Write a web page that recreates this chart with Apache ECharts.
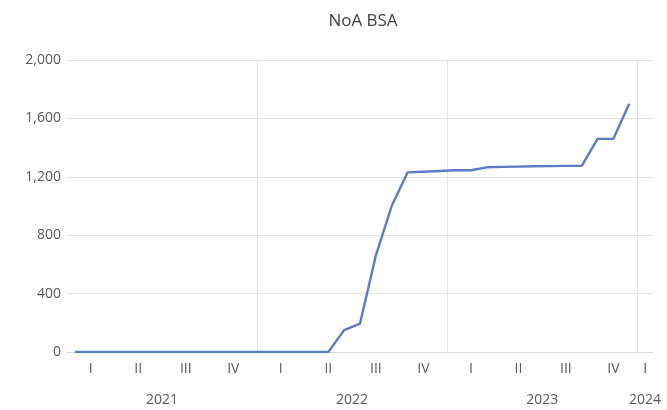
<!DOCTYPE html>
<html>
<head>
<meta charset="utf-8">
<script src="https://cdn.jsdelivr.net/npm/echarts@6/dist/echarts.min.js"></script>
<style>
  html, body { margin: 0; padding: 0; background: #ffffff; }
  #chart { width: 667px; height: 410px; }
</style>
</head>
<body>
<div id="chart"></div>
<script>
// Monthly NoA BSA totals, January 2021 onward; the axis runs one month into 2024.
const chartTitle = 'NoA BSA';
const years = ['2021', '2022', '2023', '2024'];
const monthsInYear = [12, 12, 12, 1];
const quarterNames = ['I', 'II', 'III', 'IV'];
const bsaValues = [
  0, 0, 0, 0, 0, 0, 0, 0, 0, 0, 0, 0,                      // 2021
  0, 0, 0, 0, 0, 150, 195, 660, 1000, 1230, 1235, 1240,    // 2022
  1245, 1245, 1265, 1268, 1270, 1272, 1273, 1275, 1275, 1460, 1460, 1700 // 2023
];
const yMin = 0, yMax = 2000, yStep = 400;

// Month slots along the category axis
const months = [];
const monthYear = [];
const monthOfYear = [];
years.forEach((y, yi) => {
  for (let m = 0; m < monthsInYear[yi]; m++) {
    months.push(y + '-' + String(m + 1).padStart(2, '0'));
    monthYear.push(y);
    monthOfYear.push(m);
  }
});

// Centre of each year group, in month-index units, for the year labels
const yearCentres = [];
let start = 0;
monthsInYear.forEach(n => { yearCentres.push(start + (n - 1) / 2); start += n; });

const textColor = '#595959';
const gridColor = '#e3e3e3';
const fontFamily = 'Open Sans, Noto Sans, sans-serif';

const chart = echarts.init(document.getElementById('chart'), null, { renderer: 'canvas' });
chart.setOption({
  animation: false,
  backgroundColor: '#ffffff',
  title: {
    text: chartTitle,
    left: 358,
    textAlign: 'center',
    top: 8,
    textStyle: { fontFamily, fontSize: 17, fontWeight: 'normal', color: '#404040' }
  },
  grid: { left: 67, right: 14, top: 60, bottom: 58, containLabel: false },
  xAxis: [
    {
      type: 'category',
      data: months,
      boundaryGap: true,
      axisLine: { show: true, lineStyle: { color: '#d9d9d9', width: 1 } },
      axisTick: { show: false },
      axisLabel: {
        interval: (i) => monthOfYear[i] % 3 === 1 || monthsInYear[years.indexOf(monthYear[i])] < 3,
        formatter: (v, i) => quarterNames[Math.floor(monthOfYear[i] / 3)],
        color: textColor, fontFamily, fontSize: 14, margin: 10
      },
      splitLine: {
        show: true,
        showMaxLine: false,
        interval: (i) => i > 0 && monthOfYear[i] === 0,
        lineStyle: { color: gridColor, width: 1 }
      }
    },
    {
      type: 'value',
      position: 'bottom',
      offset: 33,
      min: -0.5,
      max: months.length - 0.5,
      axisLine: { show: false },
      axisTick: { show: false },
      splitLine: { show: false },
      axisLabel: {
        customValues: yearCentres,
        formatter: (v) => years[yearCentres.indexOf(v)] || '',
        color: textColor, fontFamily, fontSize: 14, margin: 8
      }
    }
  ],
  yAxis: {
    type: 'value',
    min: yMin, max: yMax, interval: yStep,
    axisLine: { show: false },
    axisTick: { show: false },
    axisLabel: {
      formatter: (v) => v.toLocaleString('en-US'),
      color: textColor, fontFamily, fontSize: 14, margin: 6
    },
    splitLine: { lineStyle: { color: gridColor, width: 1 } }
  },
  series: [{
    type: 'line',
    xAxisIndex: 0,
    data: bsaValues,
    showSymbol: false,
    lineStyle: { color: '#5b7cc4', width: 2.4 },
    z: 3
  }]
});
</script>
</body>
</html>
